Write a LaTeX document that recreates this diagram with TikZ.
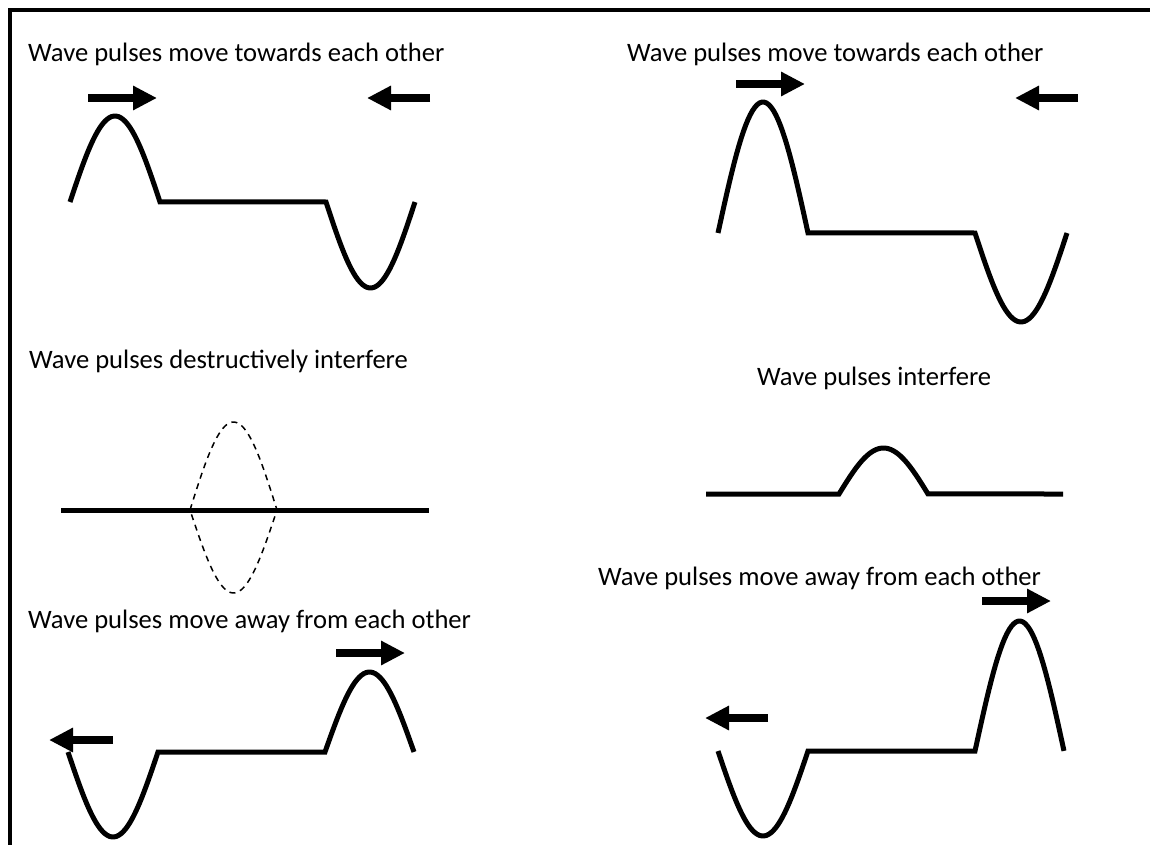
\documentclass[tikz,border=0pt]{standalone}
\usepackage{fontspec}
\setmainfont{Carlito}
\usetikzlibrary{arrows.meta}
\begin{document}
\begin{tikzpicture}[x=1pt,y=-1pt,
  wave/.style={line width=5pt, line join=miter},
  ghost/.style={line width=1.5pt, dash pattern=on 6pt off 5pt},
  mover/.style={line width=8pt, -{Triangle[length=24pt,width=23pt]}},
  caption/.style={anchor=base west, inner sep=0pt, font=\fontsize{26.6}{32}\selectfont}]
\useasboundingbox (0,0) rectangle (1150,845);
% frame
\draw[line width=4pt] (1150,10) -- (10,10) -- (10,845);

% Panel 1
\node[caption] (t1) at (28,62) {Wave pulses move towards each other};
\draw[mover] (88,98) -- (157,98);
\draw[mover] (430,98) -- (367,98);
\draw[wave] plot[domain=0:1,samples=40] ({70+90*\x},{202-86*sin(180*\x)})
  -- (326,202)
  -- plot[domain=0:1,samples=40] ({326+89*\x},{202+86*sin(180*\x)});

% Panel 2
\node[caption] (t2) at (627,62) {Wave pulses move towards each other};
\draw[mover] (736,84) -- (805,84);
\draw[mover] (1078,98) -- (1015,98);
\draw[wave] plot[domain=0:1,samples=40] ({718+90*\x},{233-131*sin(180*\x)})
  -- (975,233)
  -- plot[domain=0:1,samples=40] ({975+92*\x},{233+89*sin(180*\x)});

% Panel 3
\node[caption] (t3) at (29,368) {Wave pulses destructively interfere};
\draw[wave] (61,510) -- (429,510);
\draw[ghost] plot[domain=0:1,samples=40] ({190+87*\x},{510-88*sin(180*\x)})
  -- plot[domain=1:0,samples=40] ({190+87*\x},{510+83*sin(180*\x)});

% Panel 4
\node[caption] (t4) at (757,385) {Wave pulses interfere};
\draw[wave] (706,494) -- (839,494)
  -- plot[domain=0:1,samples=40] ({839+89*\x},{494-46*sin(180*\x)})
  -- (1063,494);

% Panel 5
\node[caption] (t5) at (28,628) {Wave pulses move away from each other};
\draw[mover] (336,653) -- (405,653);
\draw[mover] (113,740) -- (49,740);
\draw[wave] plot[domain=0:1,samples=40] ({68+90*\x},{752+85*sin(180*\x)})
  -- (325,752)
  -- plot[domain=0:1,samples=40] ({325+89*\x},{752-80*sin(180*\x)});

% Panel 6
\node[caption] (t6) at (598,585) {Wave pulses move away from each other};
\draw[mover] (982,601) -- (1051,601);
\draw[mover] (768,718) -- (705,718);
\draw[wave] plot[domain=0:1,samples=40] ({718+90*\x},{751+85*sin(180*\x)})
  -- (975,751)
  -- plot[domain=0:1,samples=40] ({975+89*\x},{751-130*sin(180*\x)});
\end{tikzpicture}
\end{document}
